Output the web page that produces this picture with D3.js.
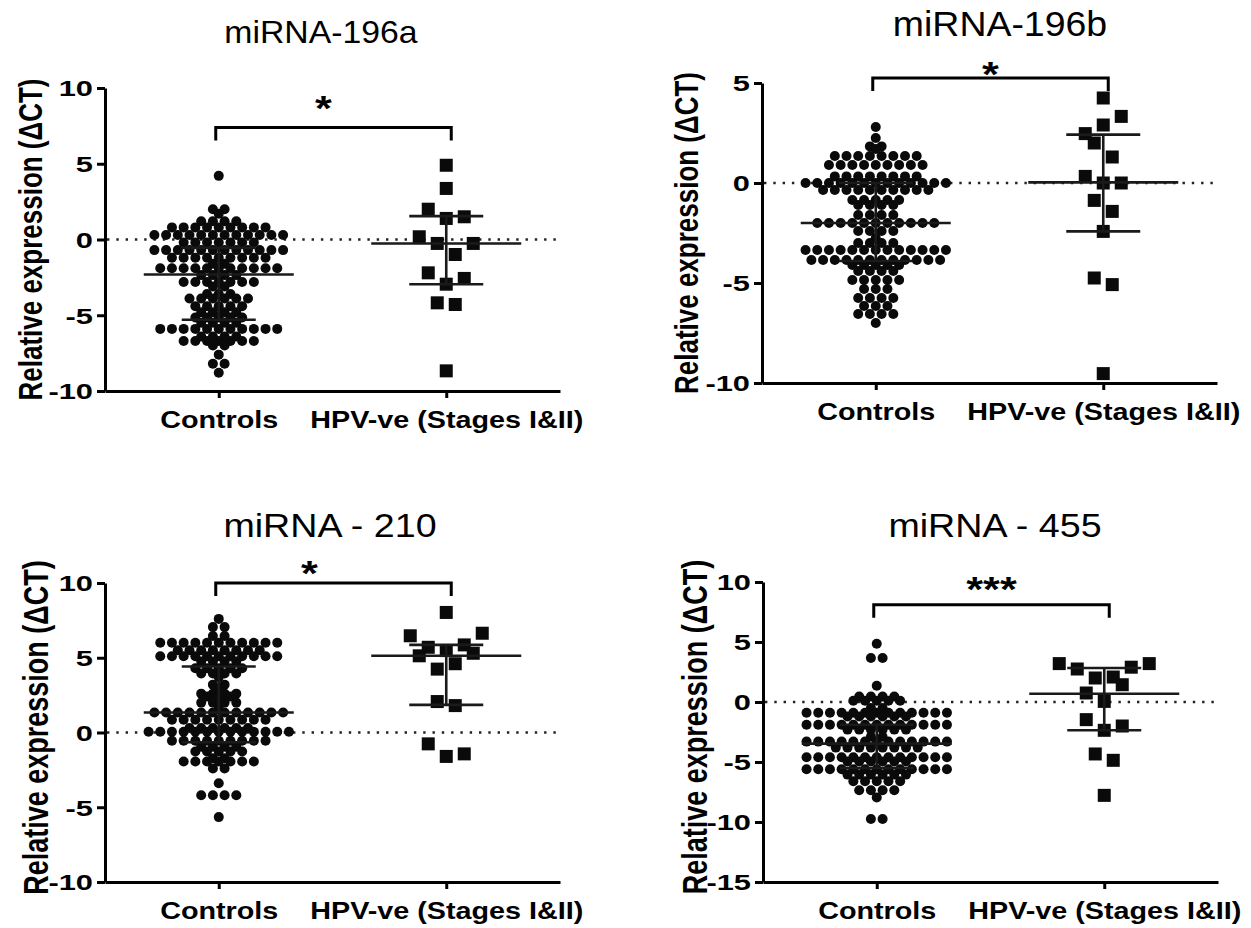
<!DOCTYPE html>
<html>
<head>
<meta charset="utf-8">
<script src="https://cdn.jsdelivr.net/npm/d3@7"></script>
<style>
  body { margin: 0; background: #fff; }
  text { font-family: "Liberation Sans", Arial, sans-serif; fill: #000; }
</style>
</head>
<body>
<div id="chart"></div>
<script>
//Group names on the x axis
const groups = ["Controls", "HPV-ve (Stages I&II)"];

//Panel titles and significance marks
const titles = ["miRNA-196a", "miRNA-196b", "miRNA - 210", "miRNA - 455"];
const stars = ["*", "*", "*", "***"];

//Y tick values for each panel
const yTicks = [
    [-10, -5, 0, 5, 10],
    [-10, -5, 0, 5],
    [-10, -5, 0, 5, 10],
    [-15, -10, -5, 0, 5, 10]
];

//Bracket height (in ΔCT units)
const bracketTop = [7.4, 5.25, 10.0, 8.1];

//Controls, miRNA-196a
const ctrl196a = [
    4.2,
    2.0, 2.0, 1.7,
    1.2, 1.2, 1.2, 1.2,
    0.8, 0.8, 0.8, 0.8, 0.8, 0.8, 0.8, 0.8, 0.8,
    0.3, 0.3, 0.3, 0.3, 0.3, 0.3, 0.3, 0.3, 0.3, 0.3, 0.3, 0.3,
    -0.2, -0.2, -0.2, -0.2, -0.2, -0.2, -0.2,
    -0.7, -0.7, -0.7, -0.7, -0.7, -0.7, -0.7, -0.7, -0.7, -0.7, -0.7, -0.7,
    -1.2, -1.2, -1.2, -1.2, -1.2, -1.2, -1.2, -1.2, -1.2,
    -1.6, -1.6,
    -1.9, -1.9, -1.9, -1.9, -1.9, -1.9, -1.9, -1.9, -1.9, -1.9, -1.9,
    -2.35, -2.35, -2.35, -2.35,
    -2.8, -2.8, -2.8, -2.8, -2.8, -2.8, -2.8,
    -3.1, -3.1,
    -3.6, -3.6, -3.6,
    -3.9, -3.9, -3.9, -3.9, -3.9, -3.9,
    -4.4, -4.4, -4.4, -4.4, -4.4,
    -4.8, -4.8, -4.8, -4.8,
    -5.15, -5.15, -5.15, -5.15, -5.15,
    -5.5, -5.5, -5.5, -5.5,
    -5.9, -5.9, -5.9, -5.9, -5.9, -5.9, -5.9, -5.9, -5.9, -5.9, -5.9,
    -6.4, -6.4, -6.4, -6.4,
    -6.7, -6.7, -6.7, -6.7, -6.7, -6.7, -6.7,
    -7.0, -7.0,
    -7.6, -8.2, -8.2, -8.8
];

//HPV-ve, miRNA-196a
const hpv196a = [4.9, 3.37, 2.0, 1.39, 1.5, 0.18, -0.26, -0.99, -0.26, -2.2, -2.95, -2.57, -4.18, -4.29, -8.67];

//Controls, miRNA-196b
const ctrl196b = [
    2.8, 2.25,
    1.83, 1.83, 1.7,
    1.35, 1.35, 1.35, 1.35, 1.35, 1.35, 1.35, 1.35,
    0.9, 0.9, 0.9, 0.9, 0.9, 0.9, 0.9, 0.9, 0.9,
    0.33, 0.33, 0.33, 0.33, 0.33, 0.33, 0.33, 0.33,
    0, 0, 0, 0, 0, 0, 0, 0, 0, 0, 0, 0, 0,
    -0.35, -0.35, -0.35, -0.35, -0.35, -0.35, -0.35, -0.35, -0.35, -0.35,
    -0.85, -0.85, -0.85, -0.85, -0.85,
    -1.1, -1.1, -1.1, -1.1,
    -1.6, -1.6, -1.6, -1.6,
    -2.0, -2.0, -2.0, -2.0, -2.0, -2.0, -2.0, -2.0, -2.0, -2.0, -2.0,
    -2.4, -2.4, -2.4, -2.4,
    -2.75,
    -3.0, -3.0, -3.0, -3.0,
    -3.35, -3.35, -3.35, -3.35, -3.35, -3.35, -3.35, -3.35, -3.35, -3.35, -3.35, -3.35, -3.35,
    -3.85, -3.85, -3.85, -3.85, -3.85, -3.85, -3.85, -3.85, -3.85, -3.85, -3.85, -3.85,
    -4.1, -4.1, -4.1, -4.1, -4.1,
    -4.4, -4.4, -4.4, -4.4,
    -4.85, -4.85, -4.85, -4.85, -4.85,
    -5.3, -5.3, -5.3,
    -5.75, -5.75, -5.75, -5.75,
    -6.15, -6.15, -6.15,
    -6.55, -6.55, -6.55, -6.55,
    -7.0
];

//HPV-ve, miRNA-196b
const hpv196b = [4.25, 2.47, 2.9, 3.33, 2.0, 1.3, 0.33, 0, 0, -0.87, -1.42, -2.42, -4.75, -5.08, -9.53];

//Controls, miRNA-210
const ctrl210 = [
    7.6,
    7.05, 7.05,
    6.45, 6.45,
    6.0, 6.0, 6.0, 6.0, 6.0, 6.0, 6.0, 6.0, 6.0, 6.0, 6.0,
    5.5, 5.5, 5.5, 5.5, 5.5, 5.5, 5.5, 5.5,
    5.1, 5.1, 5.1, 5.1, 5.1, 5.1, 5.1, 5.1, 5.1, 5.1, 5.1,
    4.75, 4.75, 4.75, 4.75,
    4.3, 4.3, 4.3, 4.3, 4.3,
    3.95, 3.95, 3.95, 3.95,
    3.7,
    3.2, 3.2,
    2.95,
    2.6, 2.6, 2.6, 2.6,
    2.4, 2.4, 2.4,
    2.0, 2.0, 2.0, 2.0,
    1.74,
    1.34, 1.34, 1.34, 1.34, 1.34, 1.34, 1.34, 1.34, 1.34, 1.34, 1.34, 1.34,
    0.85, 0.85, 0.85, 0.85, 0.85, 0.85, 0.85, 0.85, 0.85,
    0.3, 0.3, 0.3, 0.3, 0.3, 0.3,
    0.05, 0.05, 0.05, 0.05, 0.05, 0.05, 0.05, 0.05, 0.05, 0.05, 0.05, 0.05, 0.05,
    -0.55, -0.55, -0.55, -0.55, -0.55, -0.55, -0.55, -0.55, -0.55,
    -0.95, -0.95, -0.95, -0.95,
    -1.27, -1.27, -1.27, -1.27, -1.27,
    -1.72, -1.72,
    -1.94, -1.94, -1.94, -1.94, -1.94, -1.94, -1.94,
    -2.4, -2.4,
    -3.4,
    -4.2, -4.2, -4.2, -4.2,
    -5.66
];

//HPV-ve, miRNA-210
const hpv210 = [8.03, 6.47, 5.7, 5.48, 5.86, 6.64, 5.13, 4.24, 4.6, 5.3, 2.07, 1.8, -0.76, -1.6, -1.43];

//Controls, miRNA-455
const ctrl455 = [
    4.86,
    3.67, 3.67,
    1.36,
    0.45, 0.45, 0.45, 0.45,
    0.1, 0.1, 0.1, 0.1, 0.1,
    -0.5, -0.5,
    -0.9, -0.9, -0.9, -0.9, -0.9, -0.9, -0.9, -0.9, -0.9, -0.9, -0.9, -0.9, -0.9,
    -1.2, -1.2, -1.2, -1.2, -1.2, -1.2,
    -1.9, -1.9, -1.9, -1.9, -1.9, -1.9, -1.9, -1.9, -1.9, -1.9, -1.9, -1.9, -1.9,
    -2.3, -2.3, -2.3, -2.3, -2.3, -2.3,
    -2.9, -2.9,
    -3.3, -3.3, -3.3, -3.3, -3.3, -3.3, -3.3, -3.3, -3.3, -3.3, -3.3, -3.3, -3.3,
    -3.8, -3.8, -3.8, -3.8, -3.8, -3.8, -3.8, -3.8,
    -4.6, -4.6, -4.6, -4.6, -4.6, -4.6, -4.6, -4.6, -4.6, -4.6, -4.6, -4.6, -4.6,
    -4.95, -4.95, -4.95, -4.95, -4.95, -4.95,
    -5.6, -5.6, -5.6, -5.6, -5.6, -5.6, -5.6, -5.6, -5.6, -5.6, -5.6, -5.6, -5.6,
    -6.05, -6.05, -6.05, -6.05, -6.05, -6.05,
    -6.6, -6.6, -6.6, -6.6, -6.6,
    -7.35, -7.35, -7.35, -7.35,
    -7.95,
    -9.75, -9.75
];

//HPV-ve, miRNA-455
const hpv455 = [3.2, 2.75, 2.0, 2.08, 2.9, 3.2, 0.75, 0.05, 1.44, -1.47, -2.36, -2.0, -4.33, -4.86, -7.78];

//Median with interquartile range [q1, median, q3] for controls and HPV-ve
const iqr196a = [[-5.3, -2.31, -0.55], [-2.95, -0.26, 1.54]];
const iqr196b = [[-3.9, -2.0, 0.0], [-2.42, 0.03, 2.42]];
const iqr210 = [[-0.65, 1.34, 4.41], [1.85, 5.13, 5.86]];
const iqr455 = [[-5.5, -3.47, -1.9], [-2.36, 0.69, 2.83]];

const controls = [ctrl196a, ctrl196b, ctrl210, ctrl455];
const hpv = [hpv196a, hpv196b, hpv210, hpv455];
const iqr = [iqr196a, iqr196b, iqr210, iqr455];

//Where each panel sits on the page
const layout = [
    {left: 105, top: 88, bottom: 391, titleX: 321, titleY: 43, titleSize: 31, titleSx: 1.09, labelGap: 63, labelDy: 0, labelSize: 26, starDx: -10, starDy: -7},
    {left: 762, top: 83, bottom: 383, titleX: 1000, titleY: 36, titleSize: 35, titleSx: 1.07, labelGap: 64, labelDy: 0, labelSize: 26, starDx: 0, starDy: 8},
    {left: 105, top: 583, bottom: 882, titleX: 330, titleY: 537, titleSize: 33, titleSx: 1.14, labelGap: 57, labelDy: -5, labelSize: 27, starDx: -24, starDy: 2},
    {left: 763, top: 582, bottom: 882, titleX: 995, titleY: 537, titleSize: 33, titleSx: 1.14, labelGap: 56, labelDy: -5, labelSize: 27, starDx: 0, starDy: -4}
];

const plotWidth = 455;

const svg = d3.select("#chart").append("svg")
    .attr("width", 1251)
    .attr("height", 928);

svg.append("rect").attr("width", 1251).attr("height", 928).attr("fill", "#fff");

//Prism style row layout: values close together are put side by side
function rowLayout(values, y, binH, step)
{
    let order = d3.range(values.length).sort((a, b) => values[b] - values[a]);
    let offsets = new Array(values.length);
    let bins = [];
    let bin = null;
    order.forEach((i) => {
        let py = y(values[i]);
        if (!bin || py - bin.start > binH) {
            bin = {start: py, items: []};
            bins.push(bin);
        }
        bin.items.push(i);
    });
    bins.forEach((b) => {
        b.items.sort((a, c) => a - c);
        let n = b.items.length;
        b.items.forEach((i, k) => { offsets[i] = (k - (n - 1) / 2) * step; });
    });
    return offsets;
}

function drawPanel(k)
{
    let p = layout[k];
    let ticks = yTicks[k];

    let y = d3.scaleLinear()
        .domain([ticks[0], ticks[ticks.length - 1]])
        .range([p.bottom, p.top]);

    let x = d3.scalePoint()
        .domain(groups)
        .range([0, plotWidth])
        .padding(0.5);

    let g = svg.append("g").attr("transform", "translate(" + p.left + ",0)");

    //Dotted line at zero
    g.append("line")
        .attr("x1", 2).attr("x2", plotWidth)
        .attr("y1", y(0)).attr("y2", y(0))
        .attr("stroke", "#222")
        .attr("stroke-width", 2.4)
        .attr("stroke-dasharray", "2.4,6.9");

    //Controls as dots
    let ctrl = controls[k];
    let dx = rowLayout(ctrl, y, 1, 11.7);
    g.append("g").selectAll("circle")
        .data(ctrl)
        .enter().append("circle")
        .attr("cx", (d, i) => x(groups[0]) + dx[i])
        .attr("cy", (d) => y(d))
        .attr("r", 5)
        .attr("fill", "#0a0a0a");

    //HPV-ve as squares
    let sq = hpv[k];
    let sx = rowLayout(sq, y, 18, 18);
    let side = 13;
    g.append("g").selectAll("rect")
        .data(sq)
        .enter().append("rect")
        .attr("x", (d, i) => x(groups[1]) + sx[i] - side / 2)
        .attr("y", (d) => y(d) - side / 2)
        .attr("width", side)
        .attr("height", side)
        .attr("fill", "#0a0a0a");

    //Median with interquartile range
    iqr[k].forEach((q, i) => {
        let cx = x(groups[i]);
        let lines = g.append("g").attr("stroke", "#1a1a1a").attr("stroke-width", 2.6);
        lines.append("line").attr("x1", cx - 75).attr("x2", cx + 75).attr("y1", y(q[1])).attr("y2", y(q[1]));
        lines.append("line").attr("x1", cx - 37).attr("x2", cx + 37).attr("y1", y(q[0])).attr("y2", y(q[0]));
        lines.append("line").attr("x1", cx - 37).attr("x2", cx + 37).attr("y1", y(q[2])).attr("y2", y(q[2]));
        lines.append("line").attr("x1", cx).attr("x2", cx).attr("y1", y(q[0])).attr("y2", y(q[2]));
    });

    //Y axis
    let yAxis = g.append("g")
        .call(d3.axisLeft(y).tickValues(ticks).tickSize(8).tickSizeOuter(0).tickFormat((d) => String(d)));
    yAxis.attr("font-size", null);
    yAxis.select(".domain").attr("stroke-width", 3);
    yAxis.selectAll(".tick line").attr("stroke-width", 3);
    yAxis.selectAll(".tick text")
        .attr("x", -12 / 1.4)
        .attr("dy", "0.36em")
        .attr("transform", "scale(1.4,1)")
        .style("font-size", "22px")
        .style("font-weight", "bold")
        .style("font-family", "'Liberation Sans', Arial, sans-serif");

    //X axis
    let xAxis = g.append("g")
        .attr("transform", "translate(0," + p.bottom + ")")
        .call(d3.axisBottom(x).tickSize(7).tickSizeOuter(0));
    xAxis.attr("font-size", null);
    xAxis.select(".domain").attr("stroke-width", 3);
    xAxis.selectAll(".tick line").attr("stroke-width", 3);
    xAxis.selectAll(".tick text")
        .attr("y", 37)
        .attr("dy", "0")
        .attr("transform", "scale(1.25,1)")
        .style("font-size", "23px")
        .style("font-weight", "bold")
        .style("font-family", "'Liberation Sans', Arial, sans-serif");

    //Y axis label
    g.append("text")
        .attr("transform", "translate(" + (-p.labelGap) + "," + ((p.top + p.bottom) / 2 + p.labelDy) + ") rotate(-90) scale(1,1.3)")
        .attr("text-anchor", "middle")
        .style("font-size", p.labelSize + "px")
        .style("font-weight", "bold")
        .text("Relative expression (\u0394CT)");

    //Title
    svg.append("text")
        .attr("transform", "translate(" + p.titleX + "," + p.titleY + ") scale(" + p.titleSx + ",1)")
        .attr("text-anchor", "middle")
        .style("font-size", p.titleSize + "px")
        .text(titles[k]);

    //Significance bracket
    let bx1 = x(groups[0]) - 3;
    let bx2 = x(groups[1]) + 5;
    let by = y(bracketTop[k]);
    g.append("path")
        .attr("d", "M" + bx1 + "," + (by + 13) + "V" + by + "H" + bx2 + "V" + (by + 13))
        .attr("fill", "none")
        .attr("stroke", "#000")
        .attr("stroke-width", 3);

    g.append("text")
        .attr("transform", "translate(" + ((bx1 + bx2) / 2 + p.starDx) + "," + (by + p.starDy) + ") scale(1.2,1)")
        .attr("text-anchor", "middle")
        .style("font-size", "36px")
        .style("font-weight", "bold")
        .text(stars[k]);
}

for (let k = 0; k < 4; k++) drawPanel(k);
</script>
</body>
</html>
